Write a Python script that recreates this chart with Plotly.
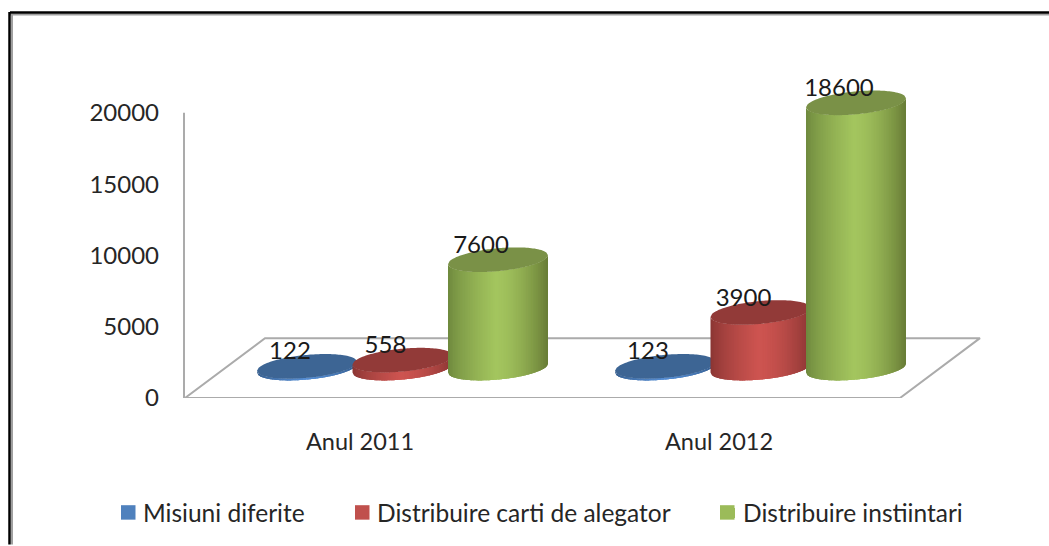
import plotly.graph_objects as go

categories = ["Anul 2011", "Anul 2012"]
series_names = ["Misiuni diferite", "Distribuire carti de alegator", "Distribuire instiintari"]
misiuni = [122, 123]
carti = [558, 3900]
instiintari = [7600, 18600]
y_ticks = [0, 5000, 10000, 15000, 20000]

series_values = [misiuni, carti, instiintari]
W, H = 1049, 546
L, R, T, B = 163, 1000, 41, 399          # plot area in pixels
Y_UNIT = (398 - 112) / 20000             # px per data unit
X_UNIT = 359.0                           # px per category
to_x = lambda px: 0.5 + (px - 360) / X_UNIT
to_dy = lambda px: px / Y_UNIT

RX = 50 / X_UNIT
RY = to_dy(11.5)
TILT = to_dy(4.5)
DEPTH_Y = to_dy(60)
DEPTH_X = 80 / X_UNIT
BASE = DEPTH_Y / 2
SHIFT = (DEPTH_X * X_UNIT / 2 + 2.5) / X_UNIT
STEP = 95.5 / X_UNIT
GROUP_STEP = 358 / X_UNIT

colors = {
    0: dict(left=(52, 92, 140), mid=(84, 140, 210), right=(52, 92, 140), cap="#3D6594", swatch="#4F81BD"),
    1: dict(left=(135, 52, 50), mid=(205, 84, 80), right=(140, 54, 52), cap="#923A38", swatch="#C0504D"),
    2: dict(left=(108, 134, 60), mid=(163, 197, 94), right=(104, 124, 54), cap="#7A9147", swatch="#9BBB59"),
}
N = 60


def mix(a, b, t):
    return tuple(round(a[i] + (b[i] - a[i]) * t) for i in range(3))


def shade(c, u):
    peak = -0.05
    if u < peak:
        t = (u + 1) / (peak + 1)
        return mix(c["left"], c["mid"], min(1, t ** 0.7))
    t = (u - peak) / (1 - peak)
    return mix(c["mid"], c["right"], t ** 1.6)


def front(u):
    return TILT * u - RY * (1 - u * u) ** 0.5


def back(u):
    return TILT * u + RY * (1 - u * u) ** 0.5


def centres_of(s):
    return [0.5 + i * GROUP_STEP + SHIFT + (s - 1) * STEP for i in range(len(categories))]


fig = go.Figure()

# floor and wall
floor_x = [to_x(185), to_x(185 + 80), to_x(980), to_x(900), to_x(185)]
floor_y = [0, DEPTH_Y, DEPTH_Y, 0, 0]
fig.add_trace(go.Scatter(x=floor_x, y=floor_y, mode="lines", line=dict(color="#ABABAB", width=2),
                         hoverinfo="skip", showlegend=False))
fig.add_trace(go.Scatter(x=[to_x(184)] * 2, y=[0, 20000], mode="lines", line=dict(color="#ABABAB", width=2),
                         hoverinfo="skip", showlegend=False))

for s, values in enumerate(series_values):
    c = colors[s]
    centres = centres_of(s)
    for k in range(N):
        u0 = -1 + 2 * k / N
        mid = u0 + 1 / N
        col = "rgb(%d,%d,%d)" % shade(c, mid)
        # each strip reaches over the next one so that no seams show
        u1 = min(1, u0 + 2 * 2.5 / N)
        us = [u0 + (u1 - u0) * j / 3 for j in range(4)]
        xs, ys = [], []
        for cx, v in zip(centres, values):
            xs += [cx + RX * u for u in us] + [cx + RX * u for u in reversed(us)] + [cx + RX * u0, None]
            ys += [BASE + v + front(u) for u in us] + [BASE + front(u) for u in reversed(us)] + [BASE + v + front(u0), None]
        fig.add_trace(go.Scatter(x=xs, y=ys, mode="none", fill="toself", fillcolor=col,
                                 hoverinfo="skip", showlegend=False))
    xs, ys = [], []
    M = 60
    for cx, v in zip(centres, values):
        for k in range(M + 1):
            u = -1 + 2 * k / M
            xs.append(cx + RX * u)
            ys.append(BASE + v + front(u))
        for k in range(M + 1):
            u = 1 - 2 * k / M
            xs.append(cx + RX * u)
            ys.append(BASE + v + back(u))
        xs.append(None)
        ys.append(None)
    fig.add_trace(go.Scatter(x=xs, y=ys, mode="none", fill="toself", fillcolor=c["cap"],
                             hoverinfo="skip", showlegend=False))

# data labels
for s, values in enumerate(series_values):
    fig.add_trace(go.Scatter(
        x=[cx - 17 / X_UNIT for cx in centres_of(s)],
        y=[BASE + v + to_dy(13) for v in values],
        mode="text", text=[str(v) for v in values], textposition="middle center",
        textfont=dict(family="Lato", size=24, color="#1a1a1a"),
        cliponaxis=False, hoverinfo="skip", showlegend=False))

# legend entries: a short dash of a thick line gives the swatch, placed close to the text
legend_names = ["legend", "legend2", "legend3"]
for s, name in enumerate(series_names):
    fig.add_trace(go.Scatter(x=[None], y=[None], mode="lines", name=name, legend=legend_names[s],
                             line=dict(color=colors[s]["swatch"], width=14, dash="0px,13px,14px,20px")))


def leg(px):
    return dict(x=(px - L) / (R - L), y=(B - 513) / (B - T), xanchor="left", yanchor="middle",
                bgcolor="rgba(0,0,0,0)", borderwidth=0, font=dict(family="Lato", size=24.5, color="#262626"))


def paper_x(px):
    return (px - L) / (R - L)


def paper_y(py):
    return (B - py) / (B - T)


frame = []
for (x0, y0, x1, y1, col, w) in [
    (10, 14.5, W, 14.5, "#A0A0A0", 2),
    (12, 14, 12, H, "#A0A0A0", 2),
    (10, 12.5, W, 12.5, "#000000", 2.5),
    (9.5, 12, 9.5, H, "#000000", 2.5),
]:
    frame.append(dict(type="line", xref="paper", yref="paper", x0=paper_x(x0), x1=paper_x(x1),
                      y0=paper_y(y0), y1=paper_y(y1), line=dict(color=col, width=w)))

# legend line thickness is capped by the library, so the swatches are squared up here
for s, x0 in enumerate([121, 355, 720]):
    frame.append(dict(type="rect", xref="paper", yref="paper", x0=paper_x(x0), x1=paper_x(x0 + 14.5),
                      y0=paper_y(506.5), y1=paper_y(521), line=dict(width=0), fillcolor=colors[s]["swatch"]))

fig.update_layout(
    width=W, height=H, autosize=False,
    margin=dict(l=L, r=W - R, t=T, b=H - B, pad=0),
    paper_bgcolor="white", plot_bgcolor="white",
    shapes=frame,
    hovermode=False,
    xaxis=dict(range=[to_x(L), to_x(R)], tickvals=[0.5, 1.5], ticktext=categories, showgrid=False,
               zeroline=False, showline=False, ticks="", ticklabelstandoff=27,
               tickfont=dict(family="Lato", size=23.5, color="#262626")),
    yaxis=dict(range=[0, (B - T) / Y_UNIT], tickvals=y_ticks, showgrid=False, zeroline=False, showline=False,
               ticks="", ticklabelstandoff=3, tickfont=dict(family="Lato", size=24, color="#262626"), tickformat="d"),
    legend=leg(103), legend2=leg(337), legend3=leg(703),
)

fig.write_html("out.html", config=dict(displayModeBar=False), post_script="document.body.style.margin='0';")
